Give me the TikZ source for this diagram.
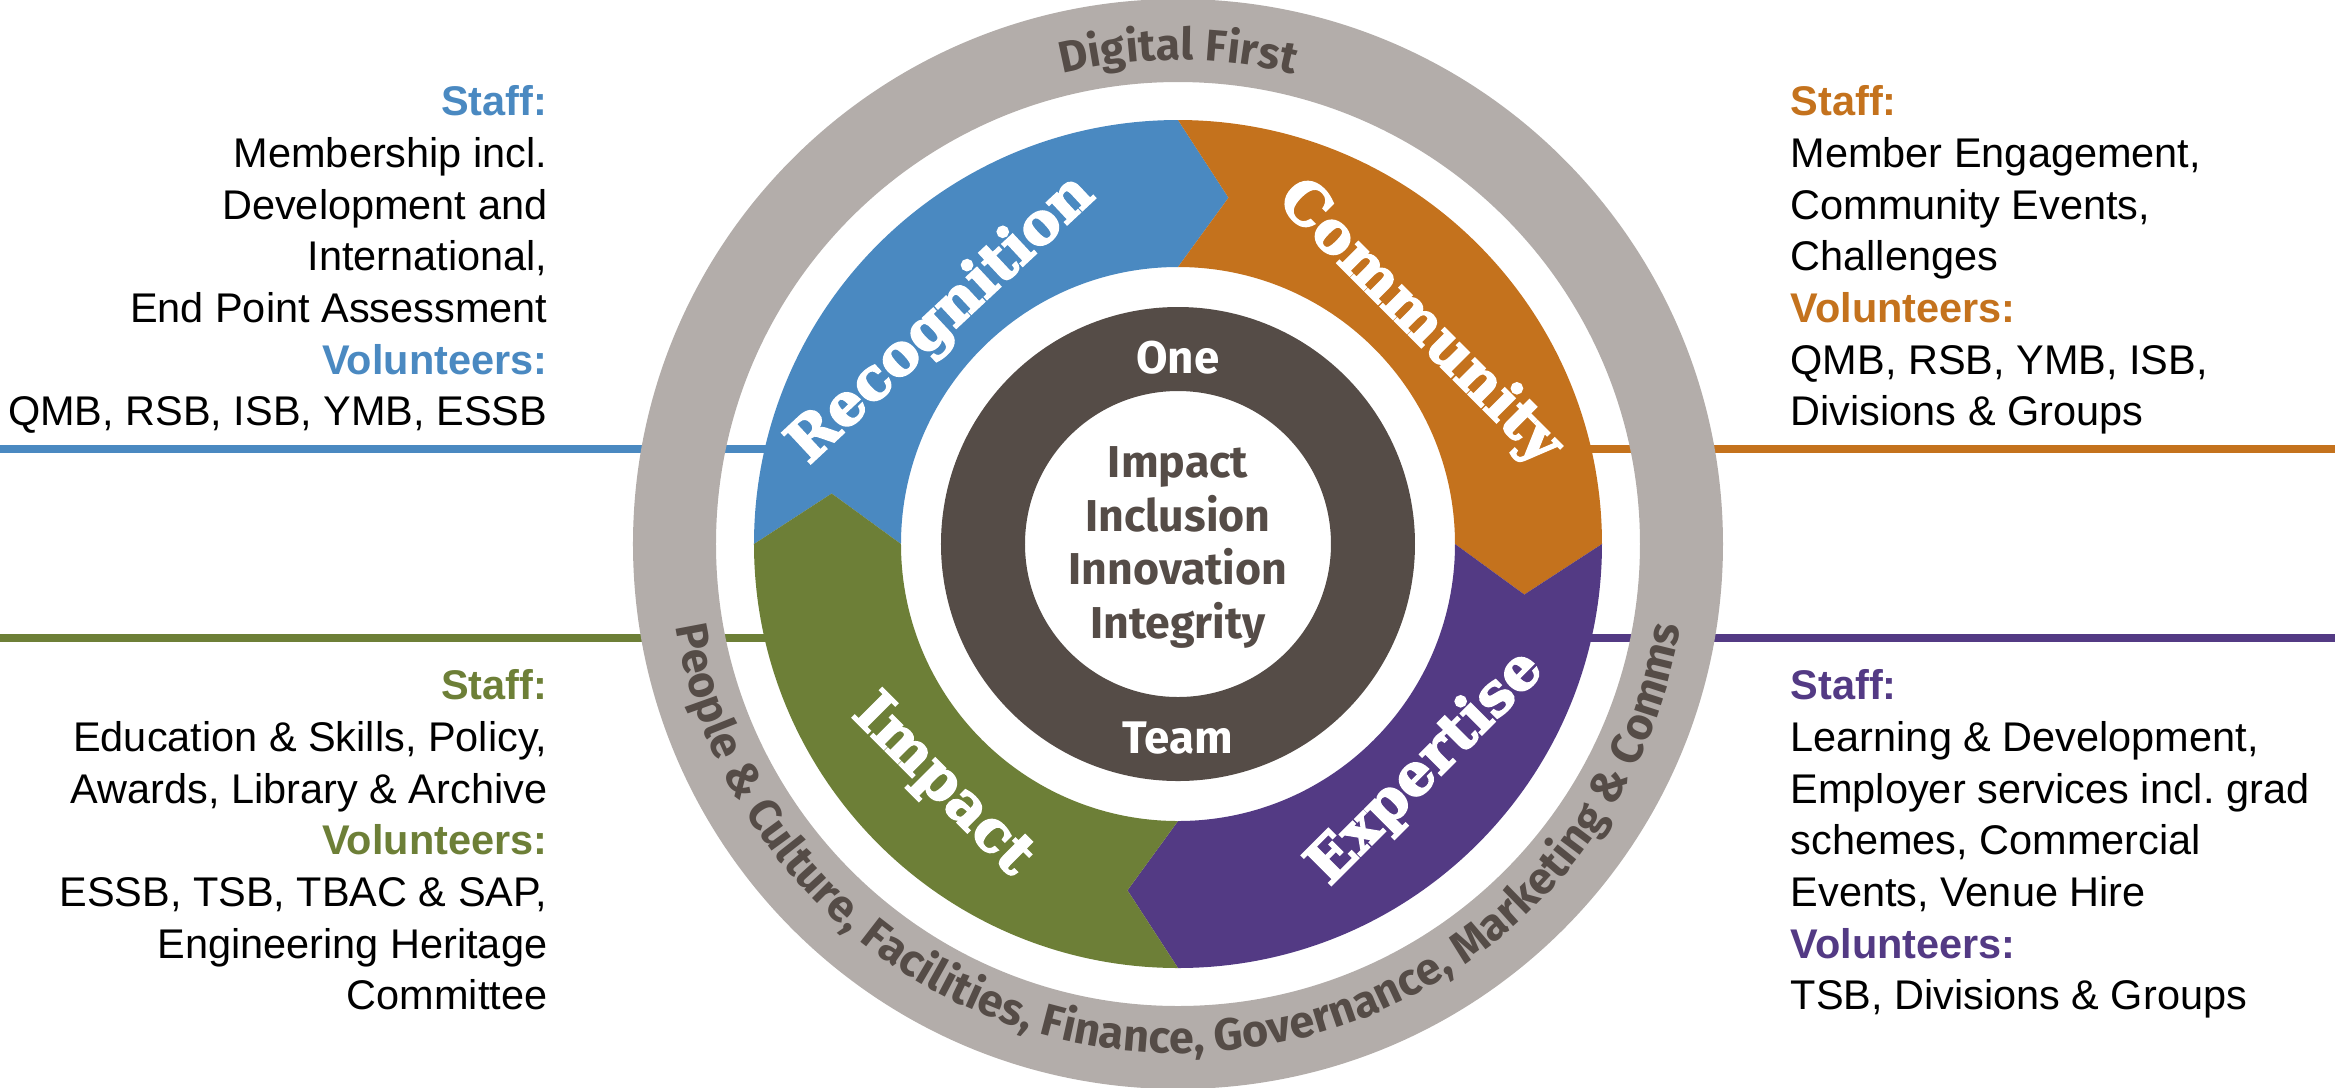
\documentclass[tikz,border=0pt]{standalone}
\usepackage{fontspec}
\setmainfont{Liberation Sans}
\newfontfamily\slabfont[BoldFont={DejaVu Serif Bold}, BoldFeatures={FakeBold=3}]{DejaVu Serif}
\newfontfamily\roundfont{Fira Sans}
\usepackage{tikz}
\usetikzlibrary{decorations.text}

\definecolor{recblue}{HTML}{4A89C1}
\definecolor{comorange}{HTML}{C4721D}
\definecolor{expurple}{HTML}{533A84}
\definecolor{impgreen}{HTML}{6D7F37}
\definecolor{ringgrey}{HTML}{B3ADAA}
\definecolor{coredark}{HTML}{554C47}

\newcommand{\ringtext}{\roundfont\bfseries}

\begin{document}
\begin{tikzpicture}[
    segment label/.style={text=white, inner sep=0pt, font=\slabfont\bfseries\fontsize{16.5}{20}\selectfont},
    ring word/.style={text=white, inner sep=0pt, font=\roundfont\bfseries\fontsize{13}{15}\selectfont},
    core text/.style={text=coredark, align=center, inner sep=0pt, font=\roundfont\bfseries\fontsize{12.7}{15.3}\selectfont},
    side text/.style={inner sep=0pt, font=\fontsize{11.8}{14.7}\selectfont},
    rule line/.style={line width=2.3pt}
]

\useasboundingbox (-11.78,-5.43) rectangle (11.57,5.44);

% --- Rules from the page edges into the wheel ---
\coordinate (c) at (0,0);
\coordinate (edgeRec) at (-11.78,0.95);
\coordinate (endRec)  at (-3.5,0.95);
\coordinate (edgeCom) at (11.57,0.95);
\coordinate (endCom)  at (3.5,0.95);
\coordinate (edgeImp) at (-11.78,-0.94);
\coordinate (endImp)  at (-3.5,-0.94);
\coordinate (edgeExp) at (11.57,-0.94);
\coordinate (endExp)  at (3.5,-0.94);

\draw[rule line, recblue]   (edgeRec) -- (endRec);
\draw[rule line, comorange] (edgeCom) -- (endCom);
\draw[rule line, impgreen]  (edgeImp) -- (endImp);
\draw[rule line, expurple]  (edgeExp) -- (endExp);

% --- Grey outer ring ---
\fill[ringgrey, even odd rule] (c) circle (5.45) circle (4.62);

% --- Chevron segments, clockwise ---
\foreach \s/\col in {180/recblue, 90/comorange, 0/expurple, 270/impgreen} {
    \fill[\col] (\s:4.24) arc[start angle=\s, end angle=\s-90, radius=4.24]
        -- ({\s-98.3}:3.5) -- ({\s-90}:2.77)
        arc[start angle=\s-90, end angle=\s, radius=2.77]
        -- ({\s-8.3}:3.5) -- cycle;
}

% --- Dark core ring ---
\fill[coredark, even odd rule] (c) circle (2.37) circle (1.53);

% --- Words on the grey ring ---
\fontsize{12.6}{14}\selectfont
\path[decorate, decoration={text along path, text align=center, text color=coredark,
    text={|\ringtext|Digital First}}]
    (120:4.84) arc[start angle=120, end angle=60, radius=4.84];
\fontsize{12.8}{14}\selectfont
\path[decorate, decoration={text along path, text align=center, text color=coredark,
    text={|\ringtext|People {\&} Culture, Facilities, Finance, Governance, Marketing {\&} Comms}}]
    (180:5.09) arc[start angle=180, end angle=360, radius=5.09];

% --- Segment labels ---
\node[segment label, rotate=43]  (recog) at (-2.36,2.24)  {Recognition};
\node[segment label, rotate=-45] (commu) at (2.41,2.21)   {Community};
\node[segment label, rotate=45]  (exper) at (2.48,-2.24)  {Expertise};
\node[segment label, rotate=-45] (impac) at (-2.36,-2.42) {Impact};

% --- Core ---
\node[ring word] (one)  at (0,1.86)  {One};
\node[ring word] (team) at (0,-1.94) {Team};
\node[core text] (values) at (0,-0.035) {Impact\\Inclusion\\Innovation\\Integrity};

% --- Side texts ---
\node[side text, align=right, anchor=north east] (recText) at (-6.30,4.59)
    {\textbf{\color{recblue}Staff:}\\Membership incl.\\Development and\\International,\\End Point Assessment\\\textbf{\color{recblue}Volunteers:}\\QMB, RSB, ISB, YMB, ESSB};
\node[side text, align=left, anchor=north west] (comText) at (6.12,4.59)
    {\textbf{\color{comorange}Staff:}\\Member Engagement,\\Community Events,\\Challenges\\\textbf{\color{comorange}Volunteers:}\\QMB, RSB, YMB, ISB,\\Divisions \& Groups};
\node[side text, align=right, anchor=north east] (impText) at (-6.30,-1.25)
    {\textbf{\color{impgreen}Staff:}\\Education \& Skills, Policy,\\Awards, Library \& Archive\\\textbf{\color{impgreen}Volunteers:}\\ESSB, TSB, TBAC \& SAP,\\Engineering Heritage\\Committee};
\node[side text, align=left, anchor=north west] (expText) at (6.12,-1.25)
    {\textbf{\color{expurple}Staff:}\\Learning \& Development,\\Employer services incl.\ grad\\schemes, Commercial\\Events, Venue Hire\\\textbf{\color{expurple}Volunteers:}\\TSB, Divisions \& Groups};

\end{tikzpicture}
\end{document}
